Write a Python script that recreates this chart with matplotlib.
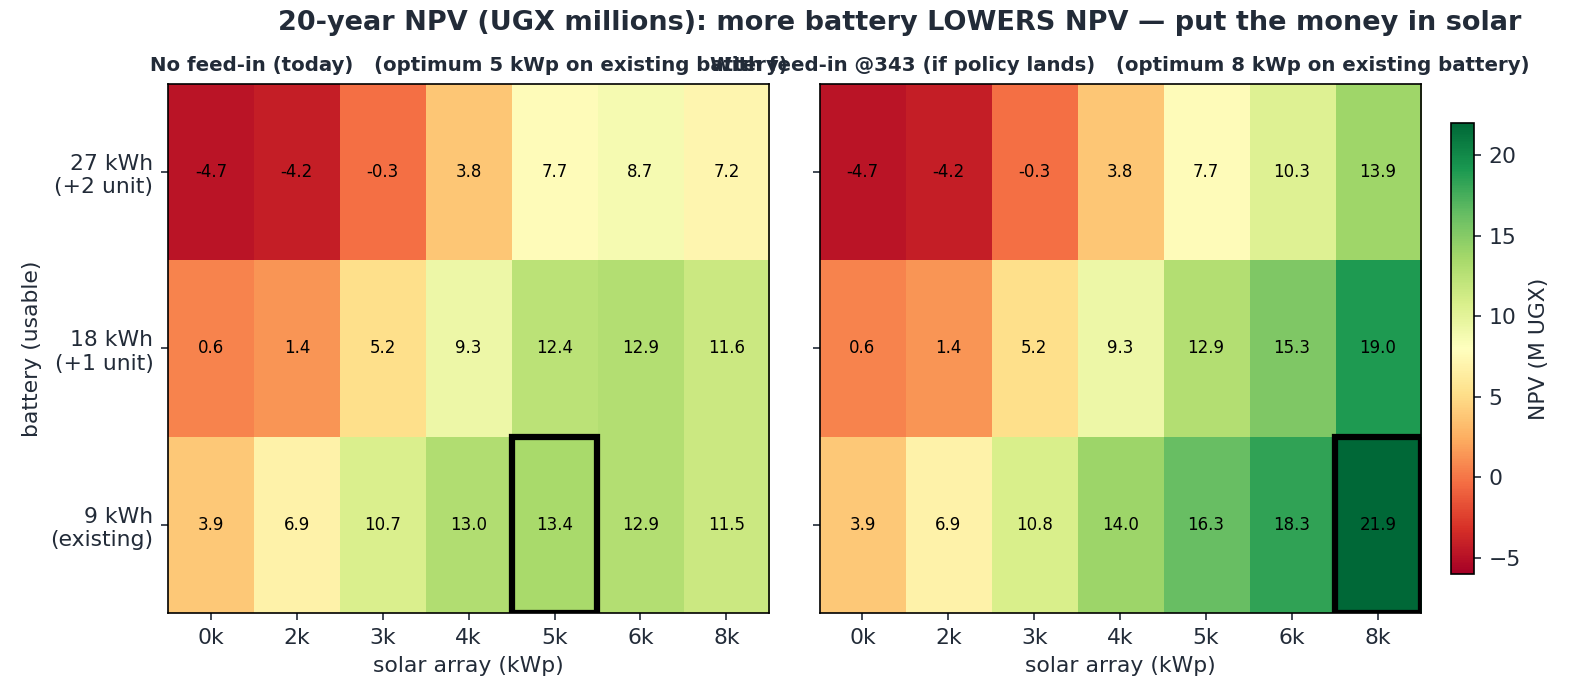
import numpy as np
import matplotlib.pyplot as plt
from matplotlib.patches import Rectangle

solar = ["0k", "2k", "3k", "4k", "5k", "6k", "8k"]
battery = ["9 kWh\n(existing)", "18 kWh\n(+1 unit)", "27 kWh\n(+2 unit)"]

# rows: 9, 18, 27 kWh
npv_nofeed = np.array([
    [3.9, 6.9, 10.7, 13.0, 13.4, 12.9, 11.5],
    [0.6, 1.4, 5.2, 9.3, 12.4, 12.9, 11.6],
    [-4.7, -4.2, -0.3, 3.8, 7.7, 8.7, 7.2],
])
npv_feed = np.array([
    [3.9, 6.9, 10.8, 14.0, 16.3, 18.3, 21.9],
    [0.6, 1.4, 5.2, 9.3, 12.9, 15.3, 19.0],
    [-4.7, -4.2, -0.3, 3.8, 7.7, 10.3, 13.9],
])
titles = ["No feed-in (today)   (optimum 5 kWp on existing battery)",
          "With feed-in @343 (if policy lands)   (optimum 8 kWp on existing battery)"]

txt = "#222b38"
plt.rcParams['text.color'] = txt
plt.rcParams['axes.labelcolor'] = txt
plt.rcParams['xtick.color'] = txt
plt.rcParams['ytick.color'] = txt

fig = plt.figure(figsize=(1570 / 150, 699 / 150), dpi=150)
ax1 = fig.add_axes([0.107, 0.123, 0.383, 0.757])
ax2 = fig.add_axes([0.522, 0.123, 0.383, 0.757])
cax = fig.add_axes([0.924, 0.179, 0.0147, 0.645])

vmin, vmax = -6, 22
for ax, data, title in zip([ax1, ax2], [npv_nofeed, npv_feed], titles):
    im = ax.imshow(data, cmap="RdYlGn", vmin=vmin, vmax=vmax, origin="lower", aspect="auto")
    for i in range(data.shape[0]):
        for j in range(data.shape[1]):
            ax.text(j, i, f"{data[i, j]:.1f}", ha="center", va="center", fontsize=8, color="black")
    r, c = np.unravel_index(np.argmax(data), data.shape)
    ax.add_patch(Rectangle((c - 0.5, r - 0.5), 1, 1, fill=False, edgecolor="black", lw=3))
    ax.set_xticks(range(len(solar)))
    ax.set_xticklabels(solar, fontsize=10.5)
    ax.set_yticks(range(len(battery)))
    ax.set_xlabel("solar array (kWp)", fontsize=10.5)
    ax.set_title(title, fontsize=9.5, fontweight="bold", pad=6)

ax1.set_yticklabels(battery, fontsize=10.5)
ax1.set_ylabel("battery (usable)", fontsize=10.5)
ax2.set_yticklabels([])

cb = fig.colorbar(im, cax=cax)
cb.set_label("NPV (M UGX)", fontsize=10.5)
cb.ax.tick_params(labelsize=10.5)

fig.suptitle("20-year NPV (UGX millions): more battery LOWERS NPV \u2014 put the money in solar",
             x=0.573, y=0.985, fontsize=13, fontweight="bold")
fig.savefig("out.png", dpi=150)
